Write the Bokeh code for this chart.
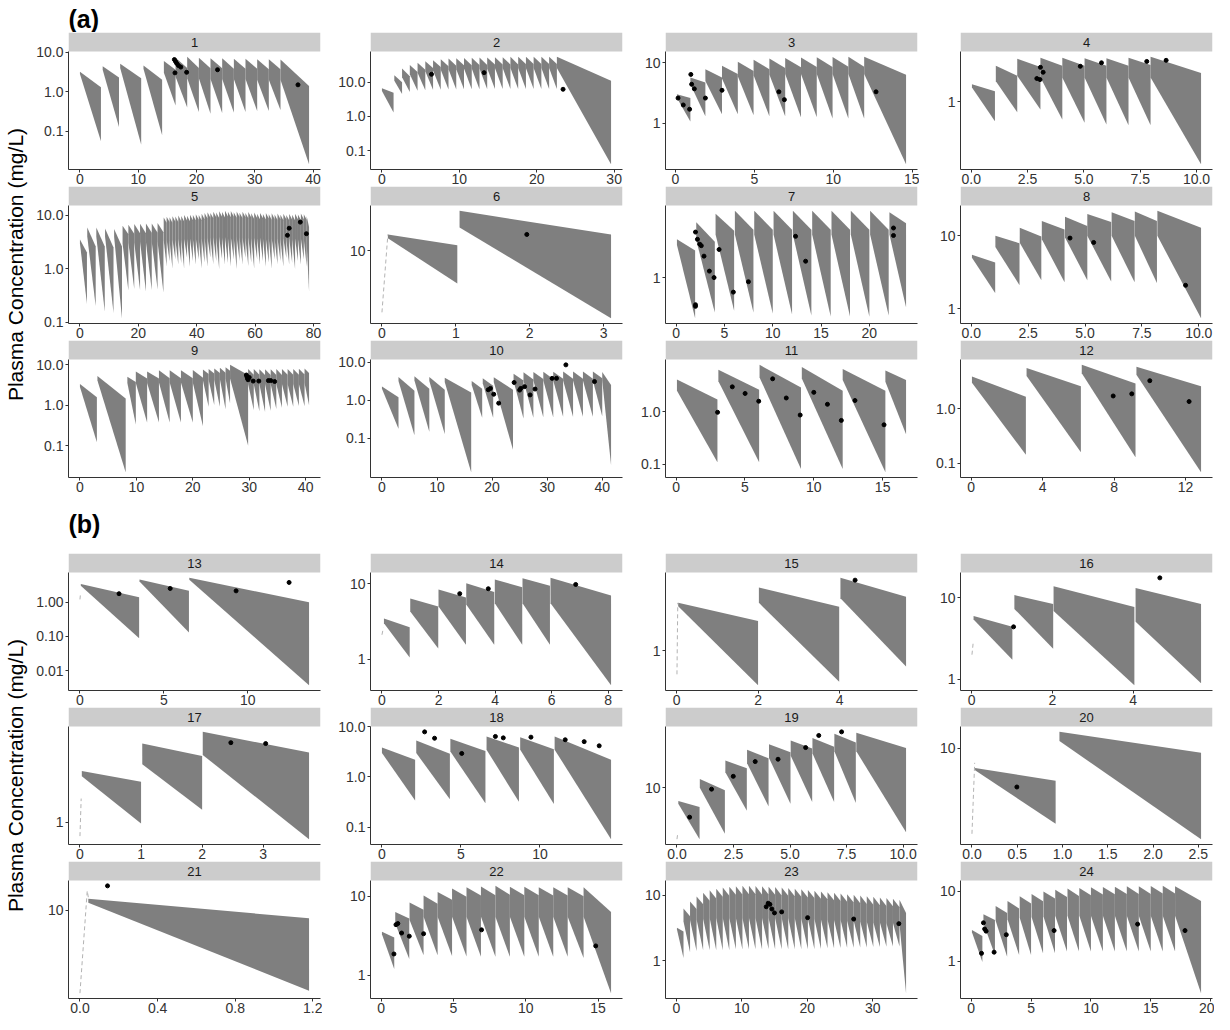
import math
from bokeh.plotting import figure
from bokeh.models import Range1d, FixedTicker, ColumnDataSource
from bokeh.layouts import row, column
from bokeh.core.properties import value
from bokeh.embed import file_html
from bokeh.resources import INLINE

FONT = "Liberation Sans"
RIBBON = "#7f7f7f"
STRIP = "#cccccc"
AXIS = "#333333"

# ---------------- data: segments (t_start, t_end, upper_start, upper_end, lower_start, lower_end)
P1_SEG = [(0.0, 3.6, 3.2, 1.3, 2.8, 0.057), (3.9, 6.7, 4.4, 2.3, 3.6, 0.13), (6.9, 10.5, 5.1, 2.2, 4.0, 0.047),
          (10.9, 14.1, 4.6, 2.0, 3.8, 0.08), (14.4, 16.4, 6.0, 3.6, 3.0, 0.45), (16.4, 18.4, 7.2, 4.0, 2.4, 0.40),
          (18.4, 20.4, 7.6, 4.0, 2.2, 0.31), (20.4, 22.4, 7.2, 3.9, 2.2, 0.28), (22.4, 24.4, 7.0, 3.9, 2.1, 0.29),
          (24.4, 26.4, 7.0, 3.8, 2.1, 0.30), (26.4, 28.4, 6.8, 3.8, 2.1, 0.31), (28.4, 30.4, 6.8, 3.8, 2.1, 0.33),
          (30.4, 32.4, 6.6, 3.7, 2.0, 0.33), (32.4, 34.4, 6.6, 3.7, 2.0, 0.35), (34.4, 39.3, 6.5, 1.4, 2.0, 0.015)]
P1_OBS_T = [16.2, 16.4, 16.6, 16.9, 17.3, 16.3, 18.3, 23.6, 37.4]
P1_OBS_C = [6.5, 5.8, 5.2, 4.6, 4.2, 3.0, 3.1, 3.6, 1.5]

P2_SEG = [(0.0, 1.5, 6.6, 4.9, 5.5, 1.3), (1.6, 2.6, 16, 10, 11, 4.5), (2.6, 3.6, 25, 15, 14, 5.2),
          (3.6, 4.6, 32, 20, 17, 5.6), (4.6, 5.6, 37, 23, 19, 5.8), (5.6, 6.6, 41, 26, 21, 6.0),
          (6.6, 7.6, 44, 28, 22, 6.0), (7.6, 8.6, 47, 29, 23, 6.1), (8.6, 9.6, 49, 30, 24, 6.1),
          (9.6, 10.6, 50, 31, 24, 6.2), (10.6, 11.6, 51, 31, 25, 6.2), (11.6, 12.6, 52, 32, 25, 6.2),
          (12.6, 13.6, 53, 32, 25, 6.2), (13.6, 14.6, 53, 33, 25, 6.3), (14.6, 15.6, 54, 33, 26, 6.3),
          (15.6, 16.6, 54, 33, 26, 6.3), (16.6, 17.6, 55, 33, 26, 6.3), (17.6, 18.6, 55, 34, 26, 6.3),
          (18.6, 19.6, 55, 34, 26, 6.3), (19.6, 20.6, 55, 34, 26, 6.3), (20.6, 21.6, 55, 34, 26, 6.3),
          (21.6, 22.6, 55, 34, 26, 6.3), (22.6, 29.6, 55, 11, 26, 0.04)]
P2_OBS_T = [6.4, 13.2, 23.4]
P2_OBS_C = [17, 19, 6.2]

P3_SEG = [(0.1, 0.95, 3.0, 2.6, 2.6, 1.07), (0.95, 1.9, 5.7, 4.7, 4.4, 1.3), (1.9, 2.95, 7.8, 5.7, 5.0, 1.4),
          (2.95, 3.95, 8.9, 6.5, 5.5, 1.4), (3.95, 4.95, 10.4, 7.3, 6.0, 1.35), (4.95, 5.95, 11.2, 7.8, 6.2, 1.3),
          (5.95, 6.95, 11.8, 8.2, 6.4, 1.3), (6.95, 7.95, 12.0, 8.4, 6.5, 1.25), (7.95, 8.95, 12.2, 8.5, 6.5, 1.25),
          (8.95, 9.95, 12.3, 8.5, 6.5, 1.2), (9.95, 10.95, 12.4, 8.6, 6.5, 1.2), (10.95, 11.95, 12.5, 8.6, 6.5, 1.2),
          (11.95, 14.6, 12.5, 6.3, 6.5, 0.21)]
P3_OBS_T = [0.17, 0.5, 0.9, 0.98, 1.03, 1.2, 1.9, 2.95, 6.55, 6.9, 12.7]
P3_OBS_C = [2.6, 2.0, 1.7, 6.4, 4.4, 3.7, 2.6, 3.5, 3.3, 2.45, 3.3]

P4_SEG = [(0.03, 1.05, 1.65, 1.35, 1.5, 0.57), (1.09, 2.04, 2.8, 2.1, 1.8, 0.74), (2.04, 3.07, 3.4, 2.7, 2.1, 0.80),
          (3.07, 4.04, 3.5, 2.8, 2.0, 0.60), (4.04, 5.03, 3.5, 2.8, 2.0, 0.55), (5.03, 6.0, 3.45, 2.8, 2.0, 0.52),
          (6.0, 6.98, 3.45, 2.8, 2.0, 0.51), (6.98, 7.96, 3.5, 2.85, 2.0, 0.51), (7.96, 10.2, 3.6, 2.27, 2.0, 0.168)]
P4_OBS_T = [2.91, 3.05, 3.07, 3.19, 4.84, 5.78, 7.79, 8.65]
P4_OBS_C = [1.94, 1.88, 2.67, 2.32, 2.75, 3.04, 3.16, 3.26]

P5_SEG = [(0.0, 2.4, 3.5, 2.0, 3.0, 0.22), (2.5, 5.4, 5.9, 2.6, 4.0, 0.20), (5.6, 8.5, 5.9, 2.6, 4.0, 0.16),
          (8.6, 11.5, 5.6, 2.5, 4.0, 0.15), (11.7, 14.4, 5.5, 2.6, 4.0, 0.12),
          (14.6, 16.6, 6.3, 4.4, 3.0, 0.39), (16.6, 18.6, 6.6, 4.5, 3.1, 0.42), (18.6, 20.6, 6.8, 4.6, 3.1, 0.40),
          (20.6, 22.6, 6.9, 4.6, 3.2, 0.38), (22.6, 24.6, 7.0, 4.7, 3.2, 0.40), (24.6, 26.6, 7.0, 4.7, 3.2, 0.41),
          (26.6, 28.6, 7.1, 4.8, 3.2, 0.36),
          (28.7, 29.7, 9.0, 7.2, 3.4, 1.1), (29.7, 30.7, 9.3, 7.4, 3.5, 1.4), (30.7, 31.7, 9.1, 7.2, 3.4, 1.0),
          (31.7, 32.7, 9.5, 7.5, 3.5, 1.5), (32.7, 33.7, 9.4, 7.4, 3.5, 1.2), (33.7, 34.7, 9.8, 7.7, 3.6, 1.3),
          (34.7, 35.7, 9.6, 7.6, 3.5, 1.0), (35.7, 36.7, 10.0, 7.9, 3.6, 1.6), (36.7, 37.7, 9.7, 7.7, 3.6, 1.1),
          (37.7, 38.7, 10.2, 8.0, 3.7, 1.4), (38.7, 39.7, 10.0, 7.9, 3.6, 1.2), (39.7, 40.7, 10.4, 8.2, 3.7, 1.5),
          (40.7, 41.7, 10.1, 8.0, 3.6, 1.0), (41.7, 42.7, 10.6, 8.4, 3.7, 1.3), (42.7, 43.7, 10.9, 8.6, 3.8, 1.1),
          (43.7, 44.7, 11.3, 8.9, 3.8, 1.6), (44.7, 45.7, 11.0, 8.7, 3.8, 1.2), (45.7, 46.7, 11.6, 9.1, 3.9, 1.4),
          (46.7, 47.7, 11.2, 8.8, 3.8, 1.0), (47.7, 48.7, 11.8, 9.3, 3.9, 1.5), (48.7, 49.7, 11.4, 9.0, 3.8, 1.2),
          (49.7, 50.7, 12.0, 9.4, 3.9, 1.3), (50.7, 51.7, 11.5, 9.1, 3.8, 1.1), (51.7, 52.7, 11.9, 9.3, 3.9, 1.5),
          (52.7, 53.7, 11.3, 8.9, 3.8, 1.0), (53.7, 54.7, 11.7, 9.2, 3.9, 1.4), (54.7, 55.7, 11.1, 8.8, 3.8, 1.2),
          (55.7, 56.7, 11.5, 9.1, 3.8, 1.6), (56.7, 57.7, 11.0, 8.7, 3.8, 1.1), (57.7, 58.7, 11.4, 9.0, 3.8, 1.3),
          (58.7, 59.7, 10.8, 8.5, 3.7, 1.0), (59.7, 60.7, 11.2, 8.8, 3.8, 1.5), (60.7, 61.7, 10.6, 8.4, 3.7, 1.2),
          (61.7, 62.7, 11.0, 8.7, 3.8, 1.4), (62.7, 63.7, 10.5, 8.3, 3.7, 1.1), (63.7, 64.7, 10.9, 8.6, 3.7, 1.3),
          (64.7, 65.7, 10.4, 8.2, 3.7, 1.0), (65.7, 66.7, 10.8, 8.5, 3.7, 1.5), (66.7, 67.7, 10.3, 8.1, 3.6, 1.2),
          (67.7, 68.7, 10.7, 8.4, 3.7, 1.4), (68.7, 69.7, 10.2, 8.0, 3.6, 1.1), (69.7, 70.7, 10.6, 8.4, 3.7, 1.6),
          (70.7, 71.7, 10.1, 8.0, 3.6, 1.2), (71.7, 72.7, 10.5, 8.3, 3.7, 1.3), (72.7, 73.7, 10.2, 8.0, 3.6, 1.0),
          (73.7, 74.7, 10.6, 8.4, 3.7, 1.4), (74.7, 75.7, 10.3, 8.1, 3.6, 1.2), (75.7, 76.7, 10.7, 8.4, 3.7, 1.5),
          (76.7, 77.7, 10.4, 8.2, 3.6, 1.1), (77.7, 78.5, 9.5, 6.0, 3.0, 0.38)]
P5_OBS_T = [71.1, 71.7, 75.5, 77.6]
P5_OBS_C = [4.2, 5.7, 7.4, 4.5]

P6_SEG = [(0.08, 1.02, 14.5, 11.3, 13.3, 4.66), (1.05, 3.1, 25, 14.5, 17, 2.1)]
P6_OBS_T = [1.96]
P6_OBS_C = [14.5]
P6_RISE_T = [0.0, 0.08]
P6_RISE_C = [2.4, 14.5]

P7_SEG = [(0.08, 1.96, 2.66, 2.0, 2.3, 0.355), (2.08, 4.0, 4.1, 2.5, 2.6, 0.41), (4.08, 6.0, 5.1, 3.3, 3.0, 0.43),
          (6.08, 8.0, 5.5, 3.4, 3.0, 0.41), (8.08, 10.0, 5.5, 3.4, 3.0, 0.40), (10.08, 12.0, 5.5, 3.4, 3.0, 0.39),
          (12.08, 14.0, 5.5, 3.4, 3.0, 0.38), (14.08, 16.0, 5.5, 3.4, 3.0, 0.37), (16.08, 18.0, 5.5, 3.4, 3.0, 0.37),
          (18.08, 20.0, 5.5, 3.4, 3.0, 0.37), (20.08, 22.0, 5.5, 3.4, 3.0, 0.38), (22.08, 23.8, 5.3, 4.0, 3.0, 0.47)]
P7_OBS_T = [2.0, 2.2, 2.44, 2.6, 2.88, 3.44, 3.92, 4.44, 5.92, 7.48, 12.36, 13.4, 22.5, 22.5, 2.0, 2.0]
P7_OBS_C = [3.2, 2.66, 2.35, 2.26, 1.73, 1.18, 1.0, 2.05, 0.69, 0.9, 2.87, 1.52, 3.55, 2.93, 0.48, 0.5]

P8_SEG = [(0.03, 1.05, 5.5, 4.3, 5.0, 1.64), (1.06, 2.12, 10.0, 7.9, 7.0, 2.1), (2.13, 3.08, 12.9, 9.8, 8.0, 2.45),
          (3.1, 4.1, 16.0, 12.2, 9.0, 2.3), (4.12, 5.1, 18.3, 13.6, 9.5, 2.45), (5.1, 6.15, 20.0, 15.5, 10.0, 2.35),
          (6.17, 7.18, 21.0, 16.0, 10.0, 2.3), (7.19, 8.16, 21.5, 16.0, 10.0, 2.25), (8.18, 10.1, 22.0, 12.9, 10.0, 0.74)]
P8_OBS_T = [4.34, 5.38, 9.42]
P8_OBS_C = [9.3, 8.1, 2.09]

P9_SEG = [(0.0, 3.0, 3.3, 1.55, 2.8, 0.12), (3.1, 8.1, 5.2, 1.44, 4.0, 0.022), (8.4, 9.9, 5.0, 3.7, 3.5, 0.33),
          (9.9, 11.9, 6.7, 4.5, 3.5, 0.37), (11.9, 14.0, 6.7, 4.5, 3.5, 0.37), (14.0, 15.9, 7.2, 4.6, 3.6, 0.37),
          (15.9, 17.9, 7.2, 4.6, 3.6, 0.37), (17.9, 20.0, 7.2, 4.6, 3.6, 0.37), (20.0, 21.8, 7.3, 4.7, 3.6, 0.30),
          (21.8, 22.8, 7.5, 5.8, 4.0, 0.9), (22.8, 23.8, 7.8, 6.0, 4.2, 1.0), (23.8, 24.8, 8.0, 6.2, 4.2, 0.9),
          (24.8, 25.8, 8.3, 6.3, 4.3, 0.8), (25.8, 26.6, 8.6, 7.0, 4.5, 1.1), (26.6, 29.8, 9.8, 5.5, 4.5, 0.10),
          (29.8, 30.8, 7.8, 5.6, 3.3, 0.75), (30.8, 31.8, 7.8, 5.6, 3.3, 0.70), (31.8, 32.8, 7.6, 5.5, 3.3, 0.68),
          (32.8, 33.8, 7.6, 5.5, 3.3, 0.72), (33.8, 34.8, 7.6, 5.5, 3.3, 0.80), (34.8, 35.8, 7.7, 5.5, 3.3, 0.85),
          (35.8, 36.8, 7.7, 5.6, 3.3, 0.90), (36.8, 37.8, 7.8, 5.6, 3.3, 0.90), (37.8, 38.8, 7.8, 5.6, 3.3, 0.95),
          (38.8, 39.8, 7.9, 5.7, 3.3, 0.95), (39.8, 40.6, 8.0, 6.2, 3.5, 1.0)]
P9_OBS_T = [29.5, 29.6, 29.7, 29.8, 30.0, 30.7, 31.7, 33.4, 33.8, 34.5]
P9_OBS_C = [5.5, 5.0, 4.5, 4.2, 4.8, 3.9, 3.9, 4.0, 4.0, 3.8]

P10_SEG = [(0.0, 3.0, 2.3, 1.2, 2.0, 0.18), (3.0, 5.9, 4.1, 1.78, 3.2, 0.12), (5.9, 8.6, 4.3, 2.0, 3.3, 0.15),
           (8.6, 11.4, 4.1, 1.9, 3.2, 0.13), (11.4, 16.2, 3.9, 1.6, 3.0, 0.013), (16.3, 18.2, 3.2, 2.0, 2.5, 0.35),
           (18.3, 20.2, 3.8, 2.4, 2.8, 0.35), (20.3, 23.8, 4.0, 1.9, 3.0, 0.05), (23.9, 25.7, 5.0, 3.3, 3.2, 0.33),
           (25.7, 27.5, 5.4, 3.5, 3.3, 0.35), (27.5, 29.3, 5.5, 3.6, 3.3, 0.36), (29.3, 31.1, 5.6, 3.6, 3.3, 0.36),
           (31.1, 32.9, 5.6, 3.7, 3.3, 0.37), (32.9, 34.7, 5.7, 3.7, 3.3, 0.37), (34.7, 36.5, 5.7, 3.7, 3.3, 0.37),
           (36.5, 38.3, 5.7, 3.7, 3.3, 0.37), (38.3, 40.0, 5.7, 3.8, 3.3, 0.38), (40.0, 41.6, 5.5, 2.5, 3.3, 0.02)]
P10_OBS_T = [19.3, 19.7, 20.3, 21.2, 24.0, 25.0, 25.2, 25.9, 26.9, 27.8, 30.9, 31.7, 33.4, 38.6]
P10_OBS_C = [1.89, 2.05, 1.44, 0.84, 2.93, 1.85, 2.05, 2.28, 1.38, 1.97, 3.76, 3.76, 8.5, 3.1]

P11_SEG = [(0.06, 3.0, 4.1, 1.7, 2.5, 0.108), (3.07, 6.03, 6.3, 2.6, 3.8, 0.108), (6.06, 9.07, 7.8, 2.9, 4.5, 0.08),
           (9.13, 12.1, 7.1, 2.5, 4.3, 0.08), (12.1, 15.2, 6.5, 2.5, 4.0, 0.07), (15.2, 16.7, 6.1, 4.0, 3.7, 0.37)]
P11_OBS_T = [3.01, 4.08, 5.01, 6.0, 7.01, 8.0, 9.01, 10.0, 10.99, 12.0, 12.99, 15.1]
P11_OBS_C = [0.97, 2.97, 2.22, 1.58, 4.23, 1.82, 0.86, 2.33, 1.38, 0.68, 1.63, 0.56]

P12_SEG = [(0.04, 3.06, 3.9, 1.67, 3.0, 0.144), (3.1, 6.14, 5.6, 2.6, 4.0, 0.16), (6.19, 9.2, 6.4, 2.9, 4.5, 0.13),
           (9.25, 12.87, 5.9, 2.6, 4.2, 0.069)]
P12_OBS_T = [7.95, 8.99, 10.0, 12.2]
P12_OBS_C = [1.72, 1.88, 3.28, 1.36]

P13_SEG = [(0.05, 3.53, 3.4, 1.39, 3.0, 0.088), (3.55, 6.5, 4.6, 2.13, 4.0, 0.13), (6.52, 13.66, 5.1, 1.0, 4.5, 0.0038)]
P13_OBS_T = [2.33, 5.38, 9.31, 12.47]
P13_OBS_C = [1.76, 2.5, 2.13, 3.75]
P13_RISE_T = [0.0, 0.03]
P13_RISE_C = [1.2, 1.7]

P14_SEG = [(0.07, 0.98, 3.47, 2.65, 3.0, 1.05), (1.0, 1.99, 6.4, 5.0, 4.3, 1.38), (2.0, 2.97, 8.4, 6.6, 5.0, 1.55),
           (2.98, 3.97, 10.2, 7.8, 5.3, 1.55), (3.99, 4.96, 11.4, 9.0, 5.5, 1.55), (4.97, 5.94, 11.9, 9.4, 5.5, 1.55),
           (5.96, 8.1, 12.0, 7.0, 5.5, 0.45)]
P14_OBS_T = [2.75, 3.76, 6.85]
P14_OBS_C = [7.4, 8.6, 9.8]
P14_RISE_T = [0.0, 0.05]
P14_RISE_C = [2.1, 2.6]

P15_SEG = [(0.04, 2.0, 2.8, 1.89, 2.6, 0.475), (2.02, 3.99, 3.9, 2.57, 2.8, 0.51), (4.02, 5.63, 4.8, 3.2, 3.1, 0.71)]
P15_OBS_T = [4.38]
P15_OBS_C = [4.57]
P15_RISE_T = [0.01, 0.03]
P15_RISE_C = [0.6, 2.8]

P16_SEG = [(0.05, 1.01, 6.0, 4.4, 5.4, 1.73), (1.06, 2.02, 10.8, 8.4, 7.3, 2.37), (2.03, 4.03, 13.9, 7.7, 6.9, 0.845),
           (4.06, 5.68, 13.2, 8.4, 5.1, 0.89)]
P16_OBS_T = [1.04, 4.66]
P16_OBS_C = [4.4, 17.6]
P16_RISE_T = [0.01, 0.04]
P16_RISE_C = [2.0, 2.8]

P17_SEG = [(0.03, 1.0, 2.4, 2.0, 2.2, 0.98), (1.02, 2.0, 3.84, 3.1, 2.7, 1.24), (2.01, 3.75, 4.69, 3.3, 3.16, 0.75)]
P17_OBS_T = [2.47, 3.04]
P17_OBS_C = [3.9, 3.84]
P17_RISE_T = [0.0, 0.02]
P17_RISE_C = [0.79, 1.5]

P18_SEG = [(0.0, 2.1, 3.86, 2.2, 3.0, 0.34), (2.17, 4.3, 5.3, 2.9, 3.0, 0.36), (4.33, 6.55, 5.75, 3.3, 3.2, 0.30),
           (6.62, 8.67, 6.4, 3.86, 3.5, 0.32), (8.75, 10.88, 6.2, 3.57, 3.5, 0.29), (10.93, 14.5, 6.4, 2.2, 3.5, 0.058)]
P18_OBS_T = [2.7, 3.33, 5.05, 7.18, 7.68, 9.43, 11.6, 12.8, 13.75]
P18_OBS_C = [7.9, 5.9, 2.94, 6.4, 6.0, 6.2, 5.5, 5.05, 4.17]

P19_SEG = [(0.06, 1.0, 7.5, 6.6, 7.1, 3.3), (1.01, 2.12, 12.1, 9.5, 10.0, 3.7), (2.14, 3.09, 18.0, 15.2, 14.0, 6.1),
           (3.1, 4.05, 22.7, 18.9, 17.0, 6.7), (4.07, 5.02, 25.5, 21.5, 19.0, 7.1), (5.03, 5.98, 27.7, 23.3, 20.0, 7.35),
           (5.99, 6.95, 29.3, 24.2, 21.0, 7.35), (6.96, 7.91, 32.0, 26.5, 22.0, 7.2), (7.93, 10.13, 32.8, 23.6, 22.0, 3.83)]
P19_OBS_T = [0.56, 1.53, 2.49, 3.46, 4.47, 5.69, 6.27, 7.28]
P19_OBS_C = [5.3, 9.7, 12.8, 17.6, 18.5, 23.8, 30.9, 33.4]
P19_RISE_T = [0.0, 0.04]
P19_RISE_C = [3.3, 3.8]

P20_SEG = [(0.034, 0.924, 6.9, 5.4, 6.6, 2.38), (0.966, 2.53, 13.7, 9.2, 11.5, 1.78)]
P20_OBS_T = [0.496]
P20_OBS_C = [4.8]
P20_RISE_T = [0.0, 0.03]
P20_RISE_C = [1.97, 7.6]

P21_SEG = [(0.043, 1.18, 12.7, 8.5, 11.7, 1.93)]
P21_OBS_T = [0.142]
P21_OBS_C = [16.5]
P21_RISE_T = [0.0, 0.0375, 0.045]
P21_RISE_C = [1.84, 14.9, 12.5]

P22_SEG = [(0.05, 0.9, 3.55, 3.0, 3.3, 1.19), (0.97, 1.94, 6.3, 5.2, 4.5, 1.6), (1.96, 2.93, 8.3, 6.7, 5.0, 1.78),
           (2.93, 3.9, 10.2, 8.0, 5.5, 1.78), (3.9, 4.9, 11.3, 9.0, 5.5, 1.75), (4.9, 5.9, 12.5, 9.8, 5.5, 1.72),
           (5.9, 6.9, 13.0, 10.2, 5.5, 1.70), (6.9, 7.9, 13.3, 10.3, 5.5, 1.70), (7.9, 8.9, 13.5, 10.4, 5.5, 1.70),
           (8.9, 9.9, 13.2, 10.3, 5.5, 1.70), (9.9, 10.9, 13.2, 10.3, 5.5, 1.70), (10.9, 11.9, 13.0, 10.2, 5.5, 1.70),
           (11.9, 12.9, 13.0, 10.2, 5.5, 1.70), (12.9, 14.0, 13.0, 10.0, 5.5, 1.65), (14.0, 15.9, 13.0, 6.3, 5.5, 0.59)]
P22_OBS_T = [0.88, 1.02, 1.15, 1.41, 1.94, 2.93, 6.94, 14.84]
P22_OBS_C = [1.85, 4.35, 4.5, 3.41, 3.11, 3.34, 3.74, 2.34]

P23_SEG = [(0.1, 1.1, 3.2, 2.8, 3.0, 1.1),
           (1.1, 2.1, 6.3, 4.8, 4.0, 1.35), (2.1, 3.1, 8.1, 6.2, 4.2, 1.40), (3.1, 4.1, 9.6, 7.3, 4.3, 1.45),
           (4.1, 5.1, 11.0, 8.3, 4.4, 1.45), (5.1, 6.1, 12.0, 9.0, 4.5, 1.45), (6.1, 7.1, 12.6, 9.5, 4.5, 1.45),
           (7.1, 8.1, 13.2, 9.9, 4.5, 1.45), (8.1, 9.1, 13.6, 10.2, 4.5, 1.50), (9.1, 10.1, 13.8, 10.3, 4.5, 1.50),
           (10.1, 11.1, 14.0, 10.4, 4.5, 1.50), (11.1, 12.1, 14.0, 10.4, 4.5, 1.50), (12.1, 13.1, 13.9, 10.3, 4.5, 1.50),
           (13.1, 14.1, 13.8, 10.3, 4.5, 1.50), (14.1, 15.1, 13.6, 10.2, 4.5, 1.50), (15.1, 16.1, 13.4, 10.0, 4.5, 1.50),
           (16.1, 17.1, 13.2, 9.9, 4.5, 1.50), (17.1, 18.1, 13.0, 9.7, 4.5, 1.50), (18.1, 19.1, 12.7, 9.5, 4.5, 1.50),
           (19.1, 20.1, 12.4, 9.3, 4.4, 1.50), (20.1, 21.1, 12.1, 9.1, 4.4, 1.52), (21.1, 22.1, 11.8, 8.9, 4.4, 1.52),
           (22.1, 23.1, 11.5, 8.7, 4.3, 1.55), (23.1, 24.1, 11.2, 8.4, 4.3, 1.55), (24.1, 25.1, 11.0, 8.2, 4.2, 1.55),
           (25.1, 26.1, 10.7, 8.0, 4.2, 1.58), (26.1, 27.1, 10.4, 7.8, 4.1, 1.58), (27.1, 28.1, 10.2, 7.6, 4.1, 1.60),
           (28.1, 29.1, 10.0, 7.4, 4.0, 1.60), (29.1, 30.1, 9.7, 7.2, 4.0, 1.62), (30.1, 31.1, 9.5, 7.1, 3.9, 1.62),
           (31.1, 32.1, 9.3, 6.9, 3.9, 1.65), (32.1, 33.1, 9.1, 6.8, 3.8, 1.65), (33.1, 34.1, 8.9, 6.6, 3.8, 1.65),
           (34.1, 35.1, 8.6, 5.4, 3.7, 0.32)]
P23_OBS_T = [13.74, 14.04, 14.3, 14.6, 15.0, 16.1, 20.06, 27.1, 34.0]
P23_OBS_C = [6.7, 7.6, 7.3, 6.2, 5.4, 5.6, 4.57, 4.35, 3.7]

P24_SEG = [(0.06, 0.93, 2.8, 2.3, 2.6, 0.98), (1.02, 1.98, 4.7, 3.9, 3.5, 1.23), (2.04, 3.0, 6.2, 4.9, 3.8, 1.16),
           (3.03, 4.0, 7.3, 5.7, 4.0, 1.23), (4.05, 5.0, 8.5, 6.7, 4.2, 1.23), (5.04, 6.0, 9.2, 7.2, 4.3, 1.30),
           (6.03, 7.0, 10.0, 7.9, 4.4, 1.30), (7.02, 8.0, 10.6, 8.3, 4.5, 1.38), (8.04, 9.0, 11.0, 8.6, 4.5, 1.38),
           (9.03, 10.0, 11.2, 8.8, 4.5, 1.38), (10.0, 11.0, 11.5, 9.0, 4.5, 1.38), (11.0, 12.0, 11.6, 9.1, 4.5, 1.38),
           (12.0, 13.0, 11.7, 9.2, 4.5, 1.38), (13.0, 14.0, 11.8, 9.2, 4.5, 1.38), (14.0, 15.0, 11.8, 9.2, 4.5, 1.38),
           (15.0, 16.0, 11.9, 9.3, 4.5, 1.38), (16.0, 17.03, 12.0, 9.3, 4.5, 1.38), (17.03, 19.2, 11.8, 7.3, 4.5, 0.35)]
P24_OBS_T = [0.86, 1.02, 1.12, 1.24, 1.91, 2.93, 6.92, 13.9, 17.86]
P24_OBS_C = [1.3, 3.55, 2.9, 2.7, 1.35, 2.4, 2.75, 3.4, 2.75]

# tick values / labels
XT_A = [0, 10, 20, 30, 40]
XT_B = [0, 10, 20, 30]
XT_5 = [0, 5, 10, 15]
XT_25 = [0, 2.5, 5, 7.5, 10]
XL_25 = ["0.0", "2.5", "5.0", "7.5", "10.0"]
YT_3 = [0.1, 1, 10]
YL_3 = ["0.1", "1.0", "10.0"]

PANELS = [
    dict(n=1, seg=P1_SEG, ot=P1_OBS_T, oc=P1_OBS_C, xt=XT_A, yt=YT_3, yl=YL_3),
    dict(n=2, seg=P2_SEG, ot=P2_OBS_T, oc=P2_OBS_C, xt=XT_B, yt=YT_3, yl=YL_3),
    dict(n=3, seg=P3_SEG, ot=P3_OBS_T, oc=P3_OBS_C, xt=XT_5, yt=[1, 10], yl=["1", "10"]),
    dict(n=4, seg=P4_SEG, ot=P4_OBS_T, oc=P4_OBS_C, xt=XT_25, xl=XL_25, yt=[1], yl=["1"]),
    dict(n=5, seg=P5_SEG, ot=P5_OBS_T, oc=P5_OBS_C, xt=[0, 20, 40, 60, 80], yt=YT_3, yl=YL_3),
    dict(n=6, seg=P6_SEG, ot=P6_OBS_T, oc=P6_OBS_C, rt=P6_RISE_T, rc=P6_RISE_C, xt=[0, 1, 2, 3], yt=[10], yl=["10"]),
    dict(n=7, seg=P7_SEG, ot=P7_OBS_T, oc=P7_OBS_C, xt=[0, 5, 10, 15, 20], yt=[1], yl=["1"]),
    dict(n=8, seg=P8_SEG, ot=P8_OBS_T, oc=P8_OBS_C, xt=XT_25, xl=XL_25, yt=[1, 10], yl=["1", "10"]),
    dict(n=9, seg=P9_SEG, ot=P9_OBS_T, oc=P9_OBS_C, xt=XT_A, yt=YT_3, yl=YL_3),
    dict(n=10, seg=P10_SEG, ot=P10_OBS_T, oc=P10_OBS_C, xt=XT_A, yt=YT_3, yl=YL_3),
    dict(n=11, seg=P11_SEG, ot=P11_OBS_T, oc=P11_OBS_C, xt=XT_5, yt=[0.1, 1], yl=["0.1", "1.0"]),
    dict(n=12, seg=P12_SEG, ot=P12_OBS_T, oc=P12_OBS_C, xt=[0, 4, 8, 12], yt=[0.1, 1], yl=["0.1", "1.0"]),
    dict(n=13, seg=P13_SEG, ot=P13_OBS_T, oc=P13_OBS_C, rt=P13_RISE_T, rc=P13_RISE_C, xt=[0, 5, 10],
         yt=[0.01, 0.1, 1], yl=["0.01", "0.10", "1.00"]),
    dict(n=14, seg=P14_SEG, ot=P14_OBS_T, oc=P14_OBS_C, rt=P14_RISE_T, rc=P14_RISE_C, xt=[0, 2, 4, 6, 8],
         yt=[1, 10], yl=["1", "10"]),
    dict(n=15, seg=P15_SEG, ot=P15_OBS_T, oc=P15_OBS_C, rt=P15_RISE_T, rc=P15_RISE_C, xt=[0, 2, 4], yt=[1], yl=["1"]),
    dict(n=16, seg=P16_SEG, ot=P16_OBS_T, oc=P16_OBS_C, rt=P16_RISE_T, rc=P16_RISE_C, xt=[0, 2, 4],
         yt=[1, 10], yl=["1", "10"]),
    dict(n=17, seg=P17_SEG, ot=P17_OBS_T, oc=P17_OBS_C, rt=P17_RISE_T, rc=P17_RISE_C, xt=[0, 1, 2, 3], yt=[1], yl=["1"]),
    dict(n=18, seg=P18_SEG, ot=P18_OBS_T, oc=P18_OBS_C, xt=[0, 5, 10], yt=YT_3, yl=YL_3),
    dict(n=19, seg=P19_SEG, ot=P19_OBS_T, oc=P19_OBS_C, rt=P19_RISE_T, rc=P19_RISE_C, xt=XT_25, xl=XL_25,
         yt=[10], yl=["10"]),
    dict(n=20, seg=P20_SEG, ot=P20_OBS_T, oc=P20_OBS_C, rt=P20_RISE_T, rc=P20_RISE_C, xt=[0, 0.5, 1, 1.5, 2, 2.5],
         xl=["0.0", "0.5", "1.0", "1.5", "2.0", "2.5"], yt=[10], yl=["10"]),
    dict(n=21, seg=P21_SEG, ot=P21_OBS_T, oc=P21_OBS_C, rt=P21_RISE_T, rc=P21_RISE_C, xt=[0, 0.4, 0.8, 1.2],
         xl=["0.0", "0.4", "0.8", "1.2"], yt=[10], yl=["10"]),
    dict(n=22, seg=P22_SEG, ot=P22_OBS_T, oc=P22_OBS_C, xt=XT_5, yt=[1, 10], yl=["1", "10"]),
    dict(n=23, seg=P23_SEG, ot=P23_OBS_T, oc=P23_OBS_C, xt=XT_B, yt=[1, 10], yl=["1", "10"]),
    dict(n=24, seg=P24_SEG, ot=P24_OBS_T, oc=P24_OBS_C, xt=[0, 5, 10, 15, 20], yt=[1, 10], yl=["1", "10"]),
]

# ---------------- layout constants (pixels)
FRAME_W = 252
RIGHT_B = 2
LEFT_B = [36, 48, 41, 41]
STRIP_H = 19
FRAME_H = 118
AXIS_B = 27          # room taken by the x axis under each frame
PITCH = 154          # vertical distance between facet rows
LAST_H = 161         # height of the bottom row (kept inside the window)
YLAB_W = 32
TOTAL_W = YLAB_W + sum(l + FRAME_W + RIGHT_B for l in LEFT_B)
FULL_H = STRIP_H + FRAME_H + AXIS_B


def make_panel(spec, left, height):
    seg = spec["seg"]
    ot, oc = spec["ot"], spec["oc"]
    rt, rc = spec.get("rt", []), spec.get("rc", [])
    ts = [s[0] for s in seg] + [s[1] for s in seg] + list(ot) + list(rt)
    cs = [v for s in seg for v in s[2:]] + list(oc) + list(rc)
    x0, x1 = min(ts), max(ts)
    xp = 0.05 * (x1 - x0)
    xa, xb = x0 - xp, x1 + xp
    l0, l1 = math.log10(min(cs)), math.log10(max(cs))
    lp = 0.05 * (l1 - l0)
    ya, yb = l0 - lp, l1 + lp
    ytop = yb + (yb - ya) * STRIP_H / FRAME_H
    p = figure(width=left + FRAME_W + RIGHT_B, height=height,
               x_range=Range1d(xa, xb), y_range=Range1d(10 ** ya, 10 ** ytop),
               y_axis_type="log", toolbar_location=None, output_backend="svg", title=None,
               min_border_left=left, min_border_right=RIGHT_B, min_border_top=0,
               min_border_bottom=height - STRIP_H - FRAME_H)
    p.outline_line_color = None
    p.xgrid.visible = False
    p.ygrid.visible = False
    p.background_fill_color = "white"
    p.border_fill_color = "white"
    # facet strip drawn in the band above the data area
    p.quad(left=[xa], right=[xb], bottom=[10 ** yb], top=[10 ** ytop], fill_color=STRIP, line_color=None)
    p.text(x=[(xa + xb) / 2], y=[10 ** ((yb + ytop) / 2)], text=[str(spec["n"])], text_align="center",
           text_baseline="middle", text_font=value(FONT), text_font_size="13px", text_color="#1a1a1a")
    src = ColumnDataSource(dict(xs=[[s[0], s[0], s[1], s[1]] for s in seg],
                                ys=[[s[4], s[2], s[3], s[5]] for s in seg]))
    p.patches("xs", "ys", source=src, fill_color=RIBBON, line_color=None)
    if rt:
        p.line(rt, rc, line_color="#b3b3b3", line_width=1, line_dash="4 3")
    p.scatter(ot, oc, size=4, color="black")

    xt = spec["xt"]
    xl = spec.get("xl", [str(v) for v in xt])
    p.xaxis.ticker = FixedTicker(ticks=xt)
    p.xaxis.major_label_overrides = {v: l for v, l in zip(xt, xl)}
    p.yaxis.ticker = FixedTicker(ticks=spec["yt"])
    p.yaxis.major_label_overrides = {v: l for v, l in zip(spec["yt"], spec["yl"])}
    p.yaxis.bounds = (10 ** ya, 10 ** yb)
    for ax in (p.xaxis, p.yaxis):
        ax.axis_line_color = AXIS
        ax.axis_line_width = 1
        ax.major_tick_line_color = AXIS
        ax.major_tick_in = 0
        ax.major_tick_out = 3
        ax.minor_tick_line_color = None
        ax.major_label_text_font = FONT
        ax.major_label_text_font_size = "14px"
        ax.major_label_text_color = "#333333"
        ax.major_label_standoff = 2
    p.xaxis.major_label_standoff = 1
    return p


def make_text_fig(w, h, x, y, txt, size, bold=False, angle=0.0, align="left"):
    f = figure(width=w, height=h, x_range=Range1d(0, w), y_range=Range1d(0, h), x_axis_type=None,
               y_axis_type=None, toolbar_location=None, output_backend="svg", title=None,
               min_border_left=0, min_border_right=0, min_border_top=0, min_border_bottom=0)
    f.outline_line_color = None
    f.background_fill_color = "white"
    f.border_fill_color = "white"
    f.text(x=[x], y=[y], text=[txt], angle=angle, text_align=align, text_baseline="middle",
           text_font=value(FONT), text_font_size=size, text_color="black",
           text_font_style="bold" if bold else "normal")
    return f


def section(panels, overlap_last, ylab_center):
    rows = []
    for r in range(3):
        if r < 2 or overlap_last:
            cells = [make_panel(panels[r * 4 + c], LEFT_B[c], FULL_H) for c in range(4)]
            rows.append(row(*cells, margin=(0, 0, PITCH - FULL_H, 0)))
        else:
            cells = [make_panel(panels[r * 4 + c], LEFT_B[c], LAST_H) for c in range(4)]
            rows.append(row(*cells))
    h = 3 * PITCH if overlap_last else 2 * PITCH + LAST_H
    ylab = make_text_fig(YLAB_W, h, 15, h - ylab_center, "Plasma Concentration (mg/L)", "21px",
                         angle=math.pi / 2, align="center")
    return row(ylab, column(*rows))


head_a = make_text_fig(TOTAL_W, 32, 68, 14, "(a)", "25px", bold=True)
sec_a = section(PANELS[:12], True, 232)
head_b = make_text_fig(TOTAL_W, 59, 68, 30, "(b)", "25px", bold=True)
sec_b = section(PANELS[12:], False, 222)

layout = column(head_a, sec_a, head_b, sec_b)
open("out.html", "w").write(file_html(layout, INLINE))
